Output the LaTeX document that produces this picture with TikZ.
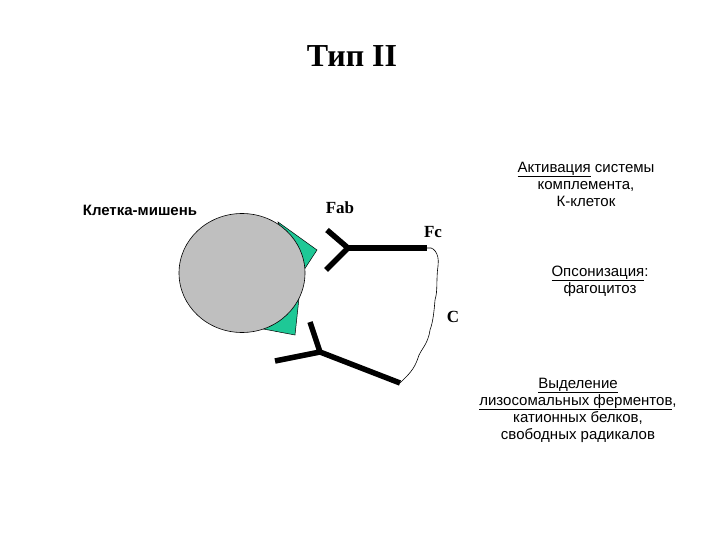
\documentclass[tikz,border=0pt]{standalone}
\usepackage{fontspec}
\usetikzlibrary{shapes.geometric}
\setmainfont{Liberation Serif}
\newfontfamily\arialf{Liberation Sans}
\begin{document}
\begin{tikzpicture}[x=1pt,y=-1pt,
  ab/.style={line width=5.5pt},
  lbl/.style={font=\fontsize{17}{19}\selectfont\bfseries},
  rt/.style={font=\arialf\fontsize{15}{17}\selectfont,align=center}]
\useasboundingbox (0,0) rectangle (720,540);
\node (title) at (352,56) {\fontsize{32}{36}\selectfont\bfseries Тип II};
\node (cell) at (140,210) [font=\arialf\fontsize{15}{17}\selectfont\bfseries] {Клетка-мишень};
\fill[fill={rgb,255:red,30;green,200;blue,150},draw=black,line width=0.5pt] (278,222) -- (317,250) -- (300,276) -- cycle;
\fill[fill={rgb,255:red,30;green,200;blue,150},draw=black,line width=0.5pt] (258,328) -- (295,335) -- (299,298) -- (270,300) -- cycle;
\node (c) at (242,273) [ellipse,minimum width=126pt,minimum height=119pt,draw=black,line width=0.6pt,fill=black!25] {};
% upper antibody
\coordinate (u1) at (327,230); \coordinate (u2) at (326,270);
\coordinate (uy) at (348,248); \coordinate (ue) at (427,248);
\draw[ab] (u1) -- (uy) -- (u2);
\draw[ab] (uy) -- (ue);
% lower antibody
\coordinate (l1) at (310,322); \coordinate (l2) at (275,361);
\coordinate (ly) at (320,352); \coordinate (le) at (400,383);
\draw[ab] (l1) -- (ly) -- (l2);
\draw[ab] (ly) -- (le);
% complement
\draw[line width=0.6pt] (ue) .. controls (432,246) and (440,252) .. (438,266)
  .. controls (436,280) and (438,290) .. (435,300)
  .. controls (434,312) and (433,322) .. (430,330)
  .. controls (428,345) and (420,350) .. (418,358)
  .. controls (414,370) and (408,375) .. (le);
\node (fab) at (340,208) [lbl] {Fab};
\node (fc) at (433,232) [lbl] {Fc};
\node (cc) at (453,317) [lbl] {C};
\node (t1) at (586,184) [rt] {\underline{Активация} системы\\комплемента,\\К-клеток};
\node (t2) at (600,281) [rt] {\underline{Опсонизация}:\\фагоцитоз};
\node (t3) at (578,410) [rt] {\underline{Выделение}\\\underline{лизосомальных ферментов},\\катионных белков,\\свободных радикалов};
\end{tikzpicture}
\end{document}
